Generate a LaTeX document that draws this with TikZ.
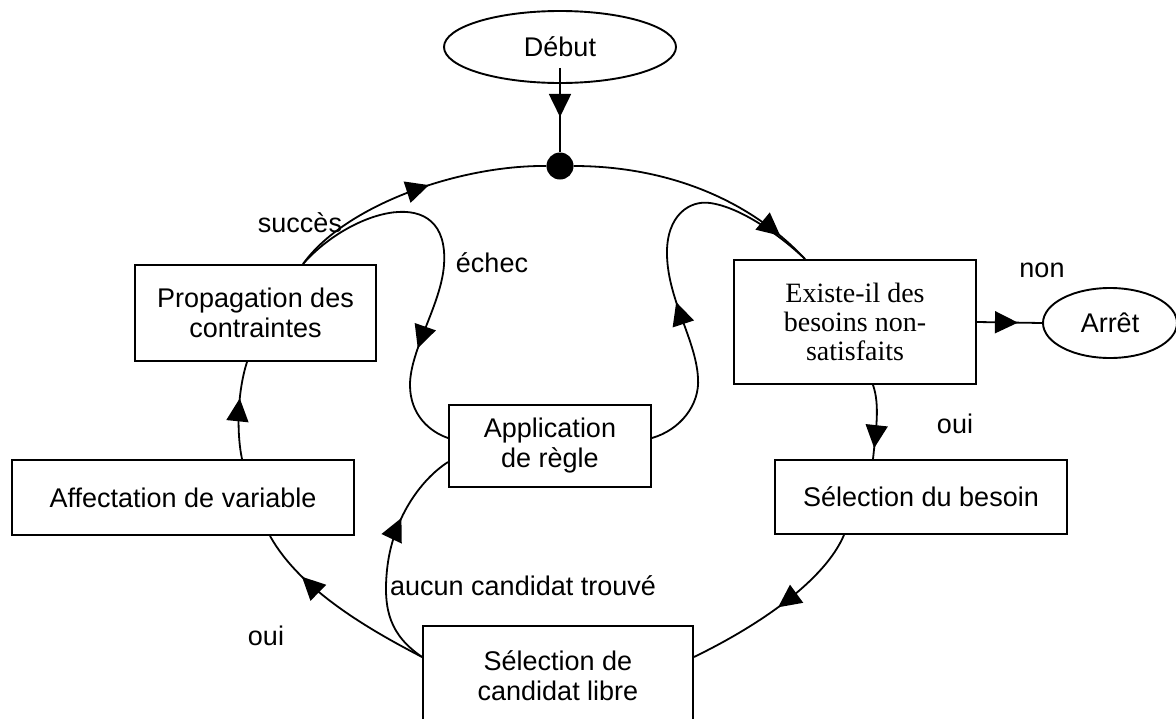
\documentclass[tikz,border=0pt]{standalone}
\usepackage{fontspec}
\setmainfont{Liberation Sans}
\newfontfamily\timesfont{Liberation Serif}
\usetikzlibrary{arrows.meta,decorations.markings,calc,shapes.geometric}
\begin{document}
\begin{tikzpicture}[x=1pt,y=-1pt,
  >={Triangle[length=23pt,width=22pt]},
  box/.style={draw,line width=1.9pt,rectangle,inner sep=0pt,align=center,
    font=\fontsize{27pt}{30pt}\selectfont},
  oval/.style={draw,line width=1.9pt,ellipse,inner sep=0pt,align=center,
    font=\fontsize{27pt}{30pt}\selectfont},
  lbl/.style={inner sep=0pt,font=\fontsize{27pt}{30pt}\selectfont},
  conn/.style={draw,line width=1.8pt},
  arrowat/.style={postaction={decorate,decoration={markings,mark=at position #1 with {\arrow{>}}}}}]
\useasboundingbox (0,0) rectangle (1176,718);

% nodes
\node[oval,minimum width=232pt,minimum height=72pt] (debut) at (560,47) {Début};
\node[circle,fill,minimum size=27pt,inner sep=0pt] (dot) at (560,166) {};
\node[box,minimum width=241pt,minimum height=96pt] (prop) at (255.5,313) {Propagation des\\contraintes};
\node[box,minimum width=342pt,minimum height=75pt] (affect) at (183,497.5) {Affectation de variable};
\node[box,minimum width=202pt,minimum height=82pt] (appl) at (550,446) {Application\\de règle};
\node[box,minimum width=242pt,minimum height=124pt,font=\timesfont\fontsize{28pt}{29pt}\selectfont] (existe) at (855,322) {Existe-il des\\besoins non-\\satisfaits};
\node[oval,minimum width=134pt,minimum height=70pt] (arret) at (1110,323) {Arrêt};
\node[box,minimum width=292pt,minimum height=74pt] (selbes) at (921,497) {Sélection du besoin};
\node[box,minimum width=270pt,minimum height=100pt] (selcand) at (558,676) {Sélection de\\candidat libre};

% anchor points on nodes
\coordinate (P1) at ($(prop.north)+(47.5,0)$);
\coordinate (P2) at ($(prop.south)+(-8.5,0)$);
\coordinate (F1) at ($(affect.north)+(59,0)$);
\coordinate (F2) at ($(affect.south)+(87,0)$);
\coordinate (A1) at ($(appl.west)+(0,-8)$);
\coordinate (A2) at ($(appl.east)+(0,-8)$);
\coordinate (A3) at ($(appl.west)+(0,16)$);
\coordinate (E1) at ($(existe.north)+(-50,0)$);
\coordinate (E2) at ($(existe.south)+(18,0)$);
\coordinate (S1) at ($(selbes.north)+(-48,0)$);
\coordinate (S2) at ($(selbes.south)+(-77,0)$);
\coordinate (C1) at ($(selcand.west)+(0,-19)$);
\coordinate (C2) at ($(selcand.east)+(0,-19)$);

% connectors
\draw[conn,arrowat=49pt] ($(debut.south)+(0,-16)$) -- (dot.north);
\draw[conn,arrowat=151pt] (P1) .. controls (345,205) and (460,165) .. (dot.west);
\draw[conn,arrowat=-34pt] (dot.east) .. controls (660,166) and (745,195) .. (E1);
\draw[conn,arrowat=281pt] (P1) .. controls (350,210) and (450,180) .. (444,265)
   .. controls (441,305) and (410,350) .. (410,385)
   .. controls (410,415) and (430,432) .. (A1);
\draw[conn,arrowat=161pt] (A2) .. controls (680,430) and (700,405) .. (698,378)
   .. controls (696,340) and (668,300) .. (667,255)
   .. controls (666,215) and (690,200) .. (710,203)
   .. controls (740,207) and (780,235) .. (E1);
\draw[conn,arrowat=-11pt] (E2) .. controls (880,405) and (876,430) .. (S1);
\draw[conn,arrowat=41pt] (existe.east) -- (arret.west);
\draw[conn,arrowat=99pt] (S2) .. controls (825,580) and (760,625) .. (C2);
\draw[conn,arrowat=145pt] (C1) .. controls (370,630) and (300,590) .. (F2);
\draw[conn,arrowat=154pt] (C1) .. controls (390,635) and (383,610) .. (387,570)
   .. controls (392,520) and (420,480) .. (A3);
\draw[conn,arrowat=61pt] (F1) .. controls (236,430) and (238,390) .. (P2);

% labels
\node[lbl,anchor=base] (succes) at (300,232) {succès};
\node[lbl,anchor=base] (echec) at (492,272) {échec};
\node[lbl,anchor=base] (non) at (1042,277) {non};
\node[lbl,anchor=base] (ouiA) at (955,433) {oui};
\node[lbl,anchor=base] (ouiB) at (266,645) {oui};
\node[lbl,anchor=base west] (aucun) at (390,595) {aucun candidat trouvé};
\end{tikzpicture}
\end{document}
